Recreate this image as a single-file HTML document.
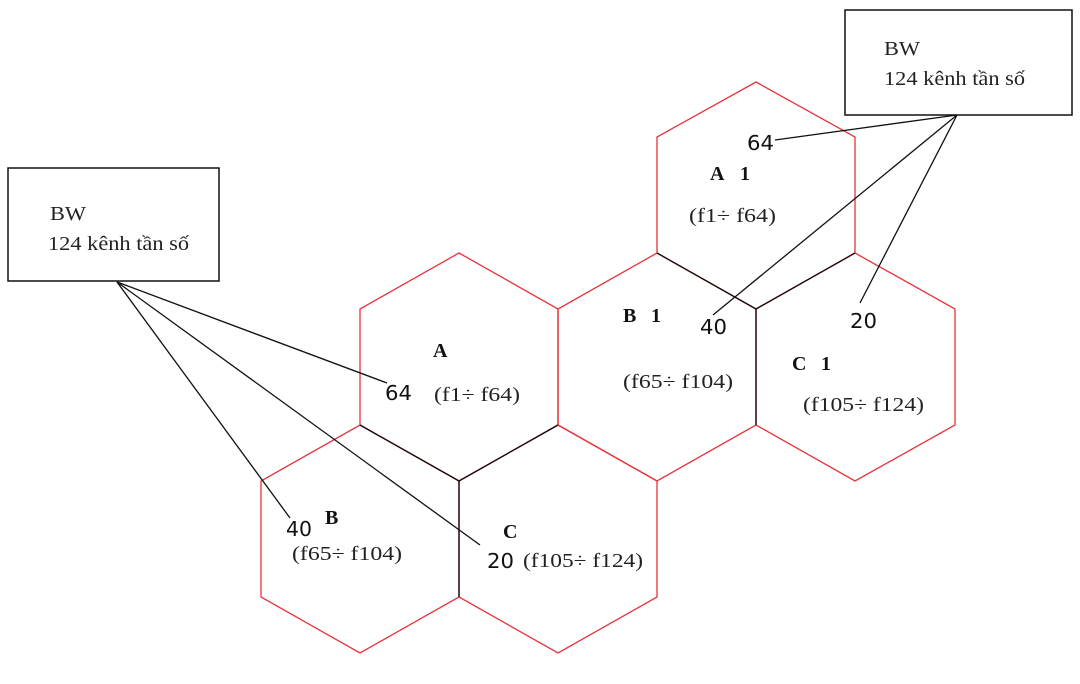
<!DOCTYPE html>
<html><head><meta charset="utf-8"><style>
html,body{margin:0;padding:0;background:#fff;}
svg{display:block;}
.s{font-family:"Liberation Serif","DejaVu Serif",serif;font-size:20px;fill:#222;}
.b{font-family:"Liberation Serif",serif;font-size:20px;font-weight:bold;fill:#111;}
.n{font-family:"DejaVu Sans","Liberation Sans",sans-serif;font-size:20px;fill:#111;}
</style></head><body>
<svg width="1080" height="684" viewBox="0 0 1080 684" xmlns="http://www.w3.org/2000/svg">
<g fill="none" stroke="#e8333a" stroke-width="1.3">
<polygon points="459,253 558,309 558,425 459,481 360,425 360,309"/>
<polygon points="360,425 459,481 459,597 360,653 261,597 261,481"/>
<polygon points="558,425 657,481 657,597 558,653 459,597 459,481"/>
<polygon points="657,253 756,309 756,425 657,481 558,425 558,309"/>
<polygon points="756,82 855,137 855,253 756,309 657,253 657,137"/>
<polygon points="855,253 955,309 955,425 855,481 756,425 756,309"/>
</g>
<g stroke="#111" stroke-width="1.3" fill="none">
<polyline points="360,425 459,481 558,425"/>
<line x1="459" y1="481" x2="459" y2="597"/>
<polyline points="657,253 756,309 855,253"/>
<line x1="756" y1="309" x2="756" y2="425"/>
<rect x="8" y="168" width="211" height="113" stroke-width="1.5"/>
<rect x="845" y="10" width="227" height="105" stroke-width="1.5"/>
<line x1="117" y1="282" x2="387" y2="383"/>
<line x1="117" y1="282" x2="290" y2="518"/>
<line x1="117" y1="282" x2="480" y2="545"/>
<line x1="957" y1="115" x2="775" y2="140"/>
<line x1="957" y1="115" x2="713" y2="315"/>
<line x1="957" y1="115" x2="860" y2="303"/>
</g>
<text class="s" x="50" y="220" textLength="36" lengthAdjust="spacingAndGlyphs">BW</text>
<text class="s" x="48" y="250" textLength="141" lengthAdjust="spacingAndGlyphs">124 kênh tần số</text>
<text class="s" x="884" y="55" textLength="36" lengthAdjust="spacingAndGlyphs">BW</text>
<text class="s" x="884" y="85" textLength="141" lengthAdjust="spacingAndGlyphs">124 kênh tần số</text>

<text class="b" x="433" y="357">A</text>
<text class="n" x="385" y="400" textLength="27" lengthAdjust="spacingAndGlyphs">64</text>
<text class="s" x="434" y="401" textLength="86" lengthAdjust="spacingAndGlyphs">(f1÷ f64)</text>

<text class="b" x="325" y="524">B</text>
<text class="n" x="286" y="536" textLength="26" lengthAdjust="spacingAndGlyphs">40</text>
<text class="s" x="292" y="560" textLength="110" lengthAdjust="spacingAndGlyphs">(f65÷ f104)</text>

<text class="b" x="503" y="538">C</text>
<text class="n" x="487" y="568" textLength="27" lengthAdjust="spacingAndGlyphs">20</text>
<text class="s" x="523" y="567" textLength="120" lengthAdjust="spacingAndGlyphs">(f105÷ f124)</text>

<text class="n" x="747" y="150" textLength="27" lengthAdjust="spacingAndGlyphs">64</text>
<text class="b" x="710" y="180">A</text><text class="b" x="740" y="180">1</text>
<text class="s" x="689" y="222" textLength="87" lengthAdjust="spacingAndGlyphs">(f1÷ f64)</text>

<text class="b" x="623" y="322">B</text><text class="b" x="651" y="322">1</text>
<text class="n" x="700" y="334" textLength="27" lengthAdjust="spacingAndGlyphs">40</text>
<text class="s" x="623" y="388" textLength="110" lengthAdjust="spacingAndGlyphs">(f65÷ f104)</text>

<text class="n" x="850" y="328" textLength="27" lengthAdjust="spacingAndGlyphs">20</text>
<text class="b" x="792" y="370">C</text><text class="b" x="821" y="370">1</text>
<text class="s" x="803" y="411" textLength="121" lengthAdjust="spacingAndGlyphs">(f105÷ f124)</text>
</svg>
</body></html>
